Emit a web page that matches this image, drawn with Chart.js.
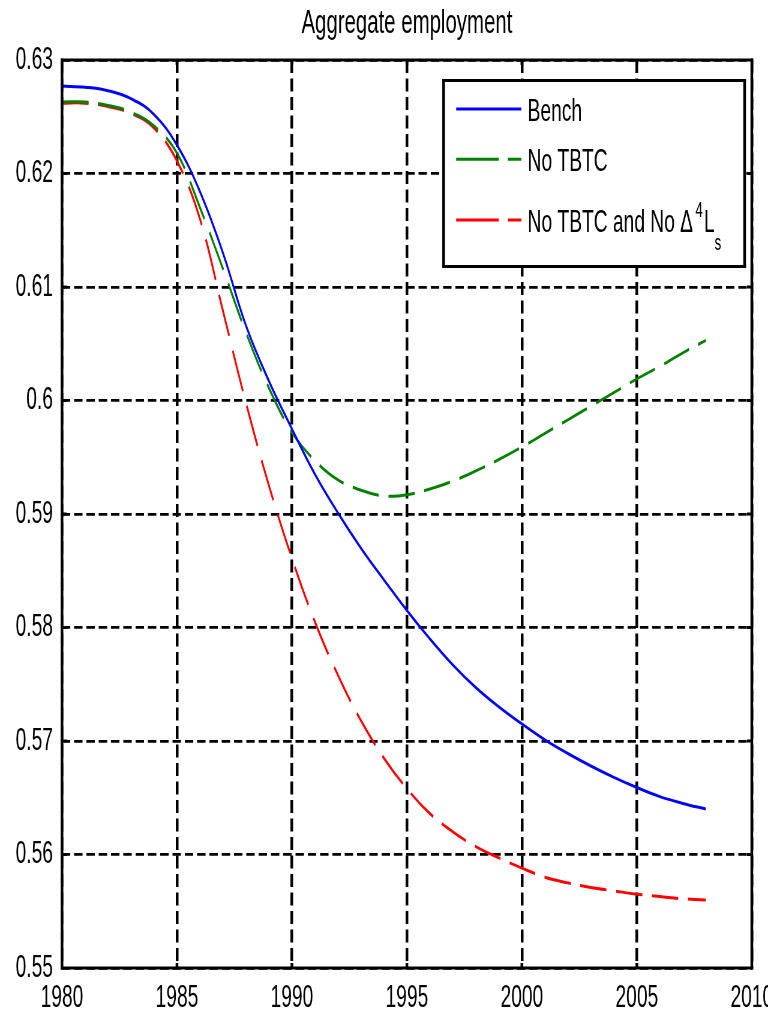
<!DOCTYPE html>
<html>
<head>
<meta charset="utf-8">
<script src="https://cdn.jsdelivr.net/npm/chart.js@4"></script>
<style>
html,body{margin:0;padding:0;background:#fff;overflow:hidden}
#c{display:block;width:768px!important;height:1017px!important}
</style>
</head>
<body>
<canvas id="c" width="1280" height="1017"></canvas>
<script>
// ---- data ----
const years = [1980,1981,1982,1983,1984,1985,1986,1987,1988,1989,1990,1991,1992,1993,1994,1995,1996,1997,1998,1999,2000,2001,2002,2003,2004,2005,2006,2007,2008];
const bench = [0.6277,0.6276,0.6273,0.6266,0.6252,0.6225,0.6184,0.6130,0.6066,0.6017,0.5975,0.5935,0.5901,0.5870,0.5842,0.5815,0.5790,0.5767,0.5747,0.5730,0.5715,0.5701,0.5689,0.5678,0.5668,0.5659,0.5651,0.5645,0.5640];
const noTBTC = [0.6263,0.6263,0.6260,0.6254,0.6242,0.6218,0.6170,0.6116,0.6060,0.6011,0.5972,0.5947,0.5930,0.5921,0.5916,0.5917,0.5922,0.5929,0.5938,0.5948,0.5959,0.5971,0.5983,0.5995,0.6007,0.6019,0.6030,0.6042,0.6053];
const noTBTCnoDL = [0.6262,0.6262,0.6259,0.6253,0.6240,0.6211,0.6160,0.6079,0.5998,0.5925,0.5861,0.5805,0.5758,0.5718,0.5685,0.5658,0.5636,0.5620,0.5607,0.5597,0.5588,0.5580,0.5575,0.5571,0.5568,0.5565,0.5563,0.5561,0.5560];
const seriesLabels = ['Bench', 'No TBTC', 'No TBTC and No \u0394\u2074L\u209B'];
const thirdLabelParts = [['No TBTC and No \u0394', 'n'], ['4', 'sup'], ['L', 'n'], ['s', 'sub']];
const xTicks = [1980,1985,1990,1995,2000,2005,2010];
const yTicks = [0.55,0.56,0.57,0.58,0.59,0.60,0.61,0.62,0.63];
const yTickLabels = ['0.55','0.56','0.57','0.58','0.59','0.6','0.61','0.62','0.63'];
const titleText = 'Aggregate employment';

const FONT = '"Liberation Sans", Arial, Helvetica, sans-serif';
const toPts = arr => years.map((yr, i) => ({x: yr, y: arr[i]}));

const frame = {
  id: 'frame',
  afterDatasetsDraw(chart) {
    const {ctx, chartArea: a, scales: {x, y}} = chart;
    ctx.save();
    ctx.strokeStyle = '#000';
    ctx.setLineDash([]);
    ctx.lineWidth = 2.8;
    ctx.beginPath();
    ctx.moveTo(a.left - 2.3, a.top); ctx.lineTo(a.right + 2.3, a.top);
    ctx.moveTo(a.left - 2.3, a.bottom); ctx.lineTo(a.right + 2.3, a.bottom);
    y.ticks.forEach(t => {
      const py = y.getPixelForValue(t.value);
      ctx.moveTo(a.left, py); ctx.lineTo(a.left + 8, py);
      ctx.moveTo(a.right, py); ctx.lineTo(a.right - 8, py);
    });
    ctx.stroke();
    ctx.lineWidth = 4.5;
    ctx.beginPath();
    ctx.moveTo(a.left, a.top - 1.4); ctx.lineTo(a.left, a.bottom + 1.4);
    ctx.moveTo(a.right, a.top - 1.4); ctx.lineTo(a.right, a.bottom + 1.4);
    x.ticks.forEach(t => {
      const px = x.getPixelForValue(t.value);
      ctx.moveTo(px, a.bottom); ctx.lineTo(px, a.bottom - 5);
      ctx.moveTo(px, a.top); ctx.lineTo(px, a.top + 5);
    });
    ctx.stroke();
    ctx.restore();
  },
  afterDraw(chart) {
    const {ctx, chartArea: a} = chart;
    const bw = 501.7, bh = 186;
    const bx = a.right - 12 - bw, by = a.top + 20.5;
    ctx.save();
    ctx.fillStyle = '#fff';
    ctx.fillRect(bx, by, bw, bh);
    ctx.strokeStyle = '#000';
    ctx.setLineDash([]);
    ctx.lineWidth = 2.8;
    ctx.beginPath();
    ctx.moveTo(bx - 2.3, by); ctx.lineTo(bx + bw + 2.3, by);
    ctx.moveTo(bx - 2.3, by + bh); ctx.lineTo(bx + bw + 2.3, by + bh);
    ctx.stroke();
    ctx.lineWidth = 4.5;
    ctx.beginPath();
    ctx.moveTo(bx, by - 1.4); ctx.lineTo(bx, by + bh + 1.4);
    ctx.moveTo(bx + bw, by - 1.4); ctx.lineTo(bx + bw, by + bh + 1.4);
    ctx.stroke();
    const rows = [28.5, 78.8, 139.5];
    const legendDash = [[], [71, 15], [71, 15]];
    chart.data.datasets.forEach((ds, i) => {
      const ry = by + rows[i];
      ctx.strokeStyle = ds.borderColor;
      ctx.lineWidth = 3;
      ctx.lineCap = 'butt';
      ctx.setLineDash(legendDash[i]);
      ctx.beginPath();
      ctx.moveTo(bx + 21, ry); ctx.lineTo(bx + 129.5, ry);
      ctx.stroke();
      ctx.setLineDash([]);
      ctx.fillStyle = '#000';
      ctx.textBaseline = 'alphabetic';
      ctx.textAlign = 'left';
      const base = ry + 11.8;
      let tx = bx + 140;
      if (i < 2) {
        ctx.font = '32px ' + FONT;
        ctx.fillText(ds.label, tx, base);
      } else {
        thirdLabelParts.forEach(([s, kind]) => {
          const small = kind !== 'n';
          ctx.font = (small ? '22px ' : '32px ') + FONT;
          const yy = kind === 'sup' ? base - 15 : kind === 'sub' ? base + 18 : base;
          if (kind === 'sup') tx += 4;
          ctx.fillText(s, tx, yy);
          tx += ctx.measureText(s).width + (kind === 'sup' ? 2 : 0);
        });
      }
    });
    ctx.restore();
  }
};

new Chart(document.getElementById('c'), {
  type: 'line',
  data: {
    datasets: [
      {label: seriesLabels[0], data: toPts(bench), borderColor: '#0000ff', borderWidth: 3, pointRadius: 0, tension: 0.4, fill: false},
      {label: seriesLabels[1], data: toPts(noTBTC), borderColor: '#008000', borderWidth: 3, borderDash: [44, 16], pointRadius: 0, tension: 0.4, fill: false},
      {label: seriesLabels[2], data: toPts(noTBTCnoDL), borderColor: '#ff0000', borderWidth: 3, borderDash: [44, 16], pointRadius: 0, tension: 0.4, fill: false}
    ]
  },
  options: {
    responsive: false,
    maintainAspectRatio: false,
    devicePixelRatio: 1,
    animation: false,
    events: [],
    layout: {padding: {left: 0, right: 27, top: 0, bottom: 0}},
    plugins: {
      legend: {display: false},
      tooltip: {enabled: false},
      title: {
        display: true, text: titleText, fullSize: false, color: '#000',
        font: {family: FONT, size: 34, weight: 'normal', lineHeight: 1.2},
        padding: {top: 3, bottom: 16.2}
      }
    },
    scales: {
      x: {
        type: 'linear', min: 1980, max: 2010,
        afterBuildTicks: s => { s.ticks = xTicks.map(v => ({value: v})); },
        afterFit: s => { s.paddingLeft = 0; s.paddingRight = 0; s.height = 49; },
        ticks: {autoSkip: false, maxRotation: 0, padding: 11, color: '#000',
          font: {family: FONT, size: 32}, callback: (v, i) => String(xTicks[i])},
        grid: {color: '#000', lineWidth: 4.5, drawTicks: false},
        border: {display: false, dash: [13, 5.5]}
      },
      y: {
        type: 'linear', min: 0.55, max: 0.63,
        afterBuildTicks: s => { s.ticks = yTicks.map(v => ({value: v})); },
        afterFit: s => { s.width = 103.3; s.paddingTop = 0; s.paddingBottom = 0; },
        ticks: {autoSkip: false, padding: 15, color: '#000',
          font: {family: FONT, size: 32}, callback: (v, i) => yTickLabels[i]},
        grid: {color: '#000', lineWidth: 2.8, drawTicks: false},
        border: {display: false, dash: [14, 6.5]}
      }
    }
  },
  plugins: [frame]
});
</script>
</body>
</html>
